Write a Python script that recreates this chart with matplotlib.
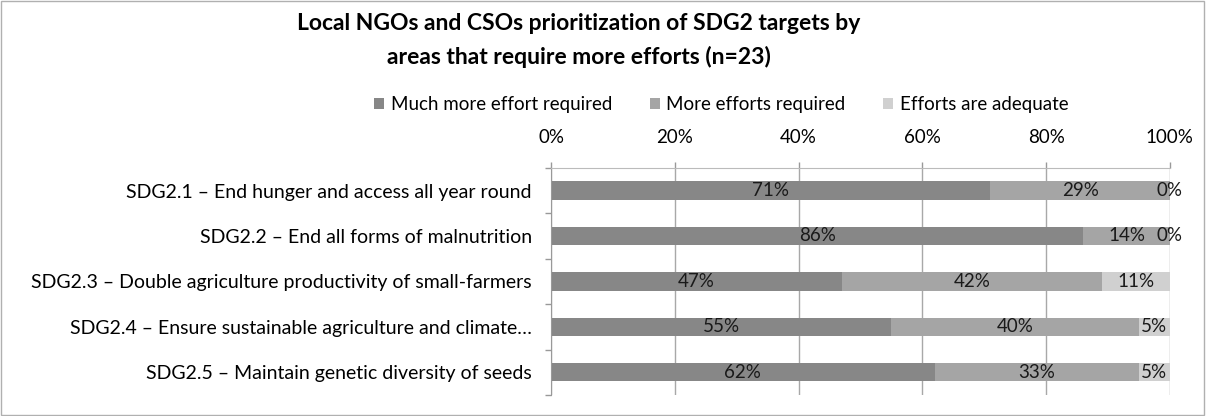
import numpy as np
import matplotlib.pyplot as plt
from matplotlib.ticker import FixedLocator

plt.rcParams['font.family'] = ['Lato', 'DejaVu Sans']

# Data
targets = [
    'SDG2.1 \u2013 End hunger and access all year round',
    'SDG2.2 \u2013 End all forms of malnutrition',
    'SDG2.3 \u2013 Double agriculture productivity of small-farmers',
    'SDG2.4 \u2013 Ensure sustainable agriculture and climate\u2026',
    'SDG2.5 \u2013 Maintain genetic diversity of seeds',
]
much_more = [71, 86, 47, 55, 62]
more = [29, 14, 42, 40, 33]
adequate = [0, 0, 11, 5, 5]
series_names = ['Much more effort required', 'More efforts required', 'Efforts are adequate']
colors = ['#878787', '#a5a5a5', '#d0d0d0']

fig = plt.figure(figsize=(12.06, 4.16), dpi=100)
ax = fig.add_axes([0.457, 0.0505, 0.513, 0.546])

y = np.arange(len(targets))
left = np.zeros(len(targets))
for vals, name, col in zip([much_more, more, adequate], series_names, colors):
    vals = np.array(vals, dtype=float)
    ax.barh(y, vals, left=left, height=0.4, color=col, label=name, zorder=2)
    for yi, l, v in zip(y, left, vals):
        ax.text(l + v / 2, yi, f'{int(v)}%', ha='center', va='center',
                fontsize=13.5, color='#1a1a1a', zorder=3)
    left = left + vals

ax.set_xlim(0, 100)
ax.set_ylim(len(targets) - 0.5, -0.5)
ax.set_xticks(np.arange(0, 101, 20))
ax.set_xticklabels([f'{v}%' for v in range(0, 101, 20)], fontsize=13.5)
ax.xaxis.tick_top()
ax.tick_params(axis='x', length=4, width=1, color='#999999', pad=12)
ax.grid(axis='x', color='#a8a8a8', linewidth=1, zorder=0)

ax.set_yticks(y)
ax.set_yticklabels(targets, fontsize=14)
ax.tick_params(axis='y', which='major', length=0, pad=14)
ax.yaxis.set_minor_locator(FixedLocator(np.arange(-0.5, len(targets), 1)))
ax.tick_params(axis='y', which='minor', length=4, width=1, color='#999999')

for s in ['right', 'bottom']:
    ax.spines[s].set_visible(False)
ax.spines['left'].set_color('#999999')
ax.spines['top'].set_color('#bbbbbb')

fig.legend(loc='center', bbox_to_anchor=(0.598, 0.748), ncol=3, frameon=False,
           fontsize=13.5, handlelength=0.55, handleheight=0.55, handletextpad=0.35,
           columnspacing=2.0)

fig.text(0.48, 0.943, 'Local NGOs and CSOs prioritization of SDG2 targets by',
         ha='center', va='center', fontsize=16.5, fontweight='bold')
fig.text(0.48, 0.862, 'areas that require more efforts (n=23)',
         ha='center', va='center', fontsize=16.5, fontweight='bold')

fig.patches.append(plt.Rectangle((0.001, 0.002), 0.997, 0.995, transform=fig.transFigure,
                                 fill=False, edgecolor='#b0b0b0', linewidth=1))

fig.savefig('out.png', dpi=100)
